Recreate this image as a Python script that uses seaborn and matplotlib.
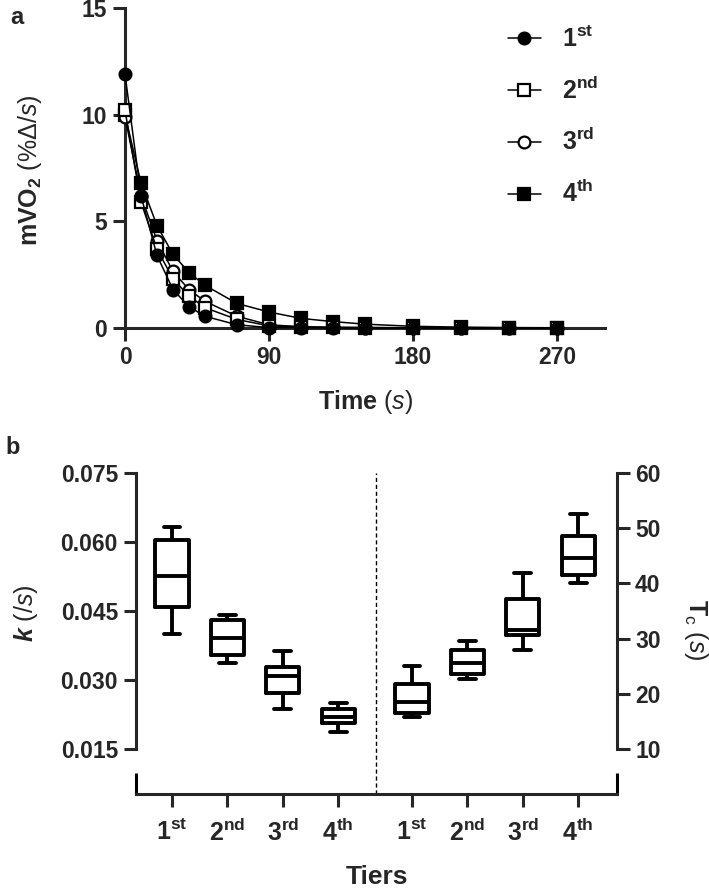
import numpy as np
import pandas as pd
import matplotlib
matplotlib.use("Agg")
import matplotlib.pyplot as plt
import seaborn as sns

sns.set_style("ticks")
plt.rcParams['font.family'] = ['Liberation Sans', 'DejaVu Sans']
plt.rcParams['mathtext.fontset'] = 'custom'
plt.rcParams['mathtext.rm'] = 'Liberation Sans'
plt.rcParams['mathtext.it'] = 'Liberation Sans:italic'
plt.rcParams['mathtext.bf'] = 'Liberation Sans:bold'
plt.rcParams['mathtext.cal'] = 'Liberation Sans:bold:italic'

# ---------------- data ----------------
time_s = [0, 10, 20, 30, 40, 50, 70, 90, 110, 130, 150, 180, 210, 240, 270]
tier1 = [11.9, 6.2, 3.4, 1.8, 1.0, 0.55, 0.15, 0.02, 0.01, 0.0, 0.0, 0.0, 0.0, 0.0, 0.0]
tier2 = [10.2, 5.9, 3.7, 2.3, 1.5, 0.95, 0.4, 0.1, 0.05, 0.03, 0.02, 0.01, 0.0, 0.0, 0.0]
tier3 = [9.9, 6.2, 4.1, 2.65, 1.8, 1.25, 0.55, 0.15, 0.06, 0.03, 0.02, 0.01, 0.0, 0.0, 0.0]
tier4 = [10.0, 6.8, 4.8, 3.45, 2.6, 2.0, 1.15, 0.75, 0.45, 0.3, 0.18, 0.08, 0.04, 0.02, 0.01]

tier_labels = [r'1$^{\mathbf{st}}$', r'2$^{\mathbf{nd}}$', r'3$^{\mathbf{rd}}$', r'4$^{\mathbf{th}}$']

# box summaries: min, q1, median, q3, max
k_1st = [0.0400, 0.0459, 0.0526, 0.0604, 0.0633]
k_2nd = [0.0338, 0.0354, 0.0391, 0.0430, 0.0441]
k_3rd = [0.0238, 0.0271, 0.0309, 0.0328, 0.0362]
k_4th = [0.0188, 0.0206, 0.0219, 0.0238, 0.0251]
tc_1st = [15.8, 16.6, 18.6, 21.7, 25.0]
tc_2nd = [22.6, 23.5, 25.6, 28.0, 29.5]
tc_3rd = [27.9, 30.7, 31.5, 37.1, 41.9]
tc_4th = [40.1, 41.6, 44.6, 48.6, 52.6]

k_pos = [0, 1, 2, 3]
tc_pos = [4.33, 5.33, 6.33, 7.33]

# ---------------- figure ----------------
W, H = 709, 890
fig = plt.figure(figsize=(W / 100, H / 100), dpi=100)

SPW = 2.2
TICK_FS = 16.5
LAB_FS = 18

# ----- panel a -----
ax1 = fig.add_axes([125 / W, 1 - 328 / H, 480 / W, 320 / H])
series = [
    (tier4, 's', 'black', 4),
    (tier3, 'o', 'white', 5),
    (tier2, 's', 'white', 6),
    (tier1, 'o', 'black', 7),
]
for vals, mk, fc, z in series:
    sns.lineplot(x=time_s, y=vals, ax=ax1, color='black', linewidth=1.1,
                 marker=mk, markersize=8.5 if mk == 'o' else 8,
                 markerfacecolor=fc, markeredgecolor='black',
                 markeredgewidth=1.6, clip_on=False, zorder=z, legend=False)
ax1.set_xlim(0, 300)
ax1.set_ylim(0, 15)
ax1.set_xticks([0, 90, 180, 270])
ax1.set_yticks([0, 5, 10, 15])
for s in ['top', 'right']:
    ax1.spines[s].set_visible(False)
for s in ['left', 'bottom']:
    ax1.spines[s].set_linewidth(SPW)
ax1.tick_params(length=9, width=SPW, labelsize=TICK_FS, pad=4)
for lab in ax1.get_xticklabels() + ax1.get_yticklabels():
    lab.set_fontweight('bold')
ax1.set_xlabel('')
ax1.set_ylabel('')

lines = ax1.get_lines()
handles = [lines[3], lines[2], lines[1], lines[0]]
leg = ax1.legend(handles, tier_labels, loc='upper left',
                 bbox_to_anchor=(508 / W, 1 - 26 / H), bbox_transform=fig.transFigure,
                 frameon=False, prop={'weight': 'bold', 'size': 18},
                 handlelength=1.3, handletextpad=0.85, labelspacing=0.99,
                 borderpad=0, borderaxespad=0)

fig.text(30 / W, 1 - 170 / H, r'$\mathbf{mVO_2}$ (%$\mathit{\Delta/s}$)',
         rotation=90, ha='center', va='center', fontsize=LAB_FS)
fig.text(365 / W, 1 - 402 / H, r'$\mathbf{Time}$ ($\mathit{s}$)',
         ha='center', va='center', fontsize=LAB_FS)
fig.text(17 / W, 1 - 18 / H, 'a', ha='center', va='center', fontsize=17, fontweight='bold')

# ----- panel b -----
ax2 = fig.add_axes([136 / W, 1 - 794 / H, 481 / W, 321 / H])
ax3 = ax2.twinx()

dfk = pd.DataFrame({'pos': np.repeat(k_pos, 5),
                    'val': k_1st + k_2nd + k_3rd + k_4th})
dft = pd.DataFrame({'pos': np.repeat(tc_pos, 5),
                    'val': tc_1st + tc_2nd + tc_3rd + tc_4th})

sns.boxplot(data=dfk, x='pos', y='val', native_scale=True, orient='x',
            whis=(0, 100), width=0.6, fill=False, color='black',
            linewidth=2.8, ax=ax2)
sns.boxplot(data=dft, x='pos', y='val', native_scale=True, orient='x',
            whis=(0, 100), width=0.6, fill=False, color='black',
            linewidth=2.8, ax=ax3)

ax2.set_ylim(0.015 - 45 / 4600, 0.075)
ax3.set_ylim(10 - 45 / 5.52, 60)
ax2.set_xlim(-0.649, 8.03)
ax2.set_yticks([0.015, 0.030, 0.045, 0.060, 0.075])
ax2.set_yticklabels(['0.015', '0.030', '0.045', '0.060', '0.075'])
ax3.set_yticks([10, 20, 30, 40, 50, 60])
ax2.set_xticks(k_pos + tc_pos)
ax2.set_xticklabels(tier_labels + tier_labels)

for s in ['top', 'right']:
    ax2.spines[s].set_visible(False)
for s in ['top', 'left', 'bottom']:
    ax3.spines[s].set_visible(False)
ax2.spines['left'].set_bounds(0.015, 0.075)
ax3.spines['right'].set_bounds(10, 60)
for s in ['left', 'bottom']:
    ax2.spines[s].set_linewidth(SPW)
ax3.spines['right'].set_linewidth(SPW)

ax2.tick_params(length=9, width=SPW, labelsize=TICK_FS, pad=4)
ax2.tick_params(axis='x', labelsize=18, pad=9)
ax3.tick_params(axis='y', length=9, width=SPW, labelsize=TICK_FS, pad=4)
ax3.tick_params(axis='x', bottom=False, labelbottom=False)
for lab in ax2.get_xticklabels() + ax2.get_yticklabels() + ax3.get_yticklabels():
    lab.set_fontweight('bold')
ax2.set_xlabel('')
ax2.set_ylabel('')
ax3.set_xlabel('')
ax3.set_ylabel('')

# end caps of the separated x axis
endh = 21 / 321
for xx in (0, 1):
    ax2.plot([xx, xx], [0, endh], transform=ax2.transAxes, color='black',
             lw=SPW, clip_on=False, solid_capstyle='butt')

ax2.axvline(3.676, color='black', lw=1.0, ls=(0, (3, 2)))

fig.text(26 / W, 1 - 613 / H, r'$\mathcal{k}$ (/$\mathit{s}$)', rotation=90,
         ha='center', va='center', fontsize=LAB_FS)
fig.text(696 / W, 1 - 630 / H, r'$\mathbf{T}_\mathrm{c}$ ($\mathit{s}$)', rotation=270,
         ha='center', va='center', fontsize=LAB_FS)
fig.text(377 / W, 1 - 877 / H, 'Tiers', ha='center', va='center',
         fontsize=19, fontweight='bold')
fig.text(13 / W, 1 - 448 / H, 'b', ha='center', va='center', fontsize=17, fontweight='bold')

fig.savefig('out.png', dpi=100)
